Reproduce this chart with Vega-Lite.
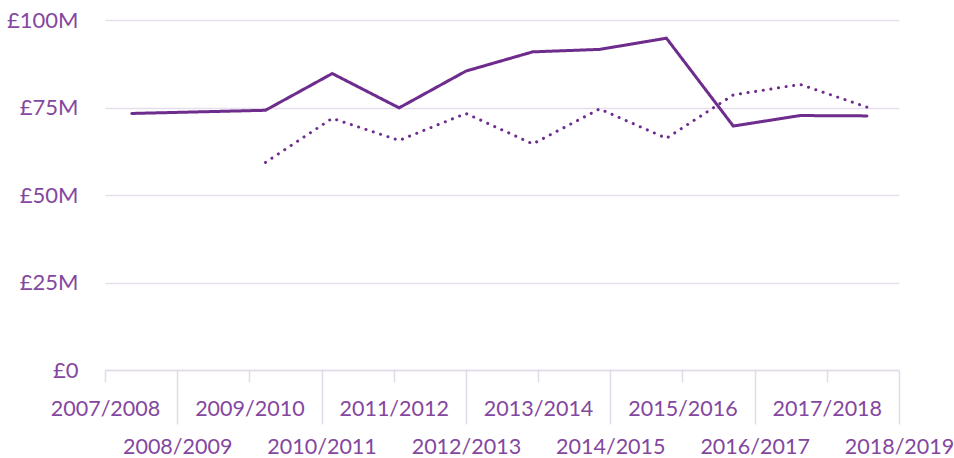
{
  "$schema": "https://vega.github.io/schema/vega-lite/v6.json",
  "width": 794,
  "height": 350,
  "autosize": {"type": "none"},
  "padding": {"left": 105, "top": 20, "right": 55, "bottom": 88},
  "background": "#ffffff",
  "config": {
    "view": {"stroke": null},
    "font": "Lato",
    "axis": {"labelFont": "Lato", "labelFontWeight": 400, "labelFontSize": 22, "labelColor": "#8447a0", "titleFontSize": 0}
  },
  "data": {
    "values": [
      {"year": "2007/2008", "series": "A", "value": 73.3},
      {"year": "2009/2010", "series": "A", "value": 74.2},
      {"year": "2010/2011", "series": "A", "value": 84.7},
      {"year": "2011/2012", "series": "A", "value": 74.9},
      {"year": "2012/2013", "series": "A", "value": 85.4},
      {"year": "2013/2014", "series": "A", "value": 90.9},
      {"year": "2014/2015", "series": "A", "value": 91.6},
      {"year": "2015/2016", "series": "A", "value": 94.8},
      {"year": "2016/2017", "series": "A", "value": 69.7},
      {"year": "2017/2018", "series": "A", "value": 72.7},
      {"year": "2018/2019", "series": "A", "value": 72.6},
      {"year": "2009/2010", "series": "B", "value": 59.3},
      {"year": "2010/2011", "series": "B", "value": 71.9},
      {"year": "2011/2012", "series": "B", "value": 65.6},
      {"year": "2012/2013", "series": "B", "value": 73.3},
      {"year": "2013/2014", "series": "B", "value": 64.6},
      {"year": "2014/2015", "series": "B", "value": 74.6},
      {"year": "2015/2016", "series": "B", "value": 66.2},
      {"year": "2016/2017", "series": "B", "value": 78.6},
      {"year": "2017/2018", "series": "B", "value": 81.6},
      {"year": "2018/2019", "series": "B", "value": 75.1}
    ]
  },
  "layer": [
    {
      "mark": {"type": "line", "opacity": 0},
      "encoding": {
        "x": {
          "field": "year", "type": "ordinal",
          "scale": {"type": "point", "padding": 0, "domain": ["2007/2008","2008/2009","2009/2010","2010/2011","2011/2012","2012/2013","2013/2014","2014/2015","2015/2016","2016/2017","2017/2018","2018/2019"]},
          "axis": {
            "title": null,
            "labelAngle": 0,
            "labelFontSize": 21.5,
            "labelOverlap": false,
            "labelBound": false,
            "labelFlush": false,
            "domainColor": "#e4dbea",
            "domainWidth": 1.5,
            "tickColor": "#e4dbea",
            "tickWidth": 1.5,
            "tickSize": {"condition": {"test": "parseInt(substring(datum.value,0,4)) % 2 == 0", "value": 54}, "value": 12},
            "labelPadding": {"condition": {"test": "parseInt(substring(datum.value,0,4)) % 2 == 0", "value": 12}, "value": 16}
          }
        },
        "y": {
          "field": "value", "type": "quantitative",
          "scale": {"domain": [0, 100], "nice": false},
          "axis": {
            "title": null,
            "values": [0, 25, 50, 75, 100],
            "labelExpr": "datum.value == 0 ? '£0' : '£' + datum.value + 'M'",
            "domain": false,
            "ticks": false,
            "grid": true,
            "gridColor": "#e6deec",
            "gridWidth": 1.5,
            "labelPadding": 27
          }
        }
      }
    },
    {
      "mark": {"type": "line", "stroke": "#6e2c8c", "strokeWidth": 3, "strokeCap": "round", "strokeJoin": "miter"},
      "encoding": {
        "x": {
          "field": "year", "type": "ordinal",
          "scale": {"type": "point", "padding": 0.44, "align": 0.455, "domain": ["2007/2008","2008/2009","2009/2010","2010/2011","2011/2012","2012/2013","2013/2014","2014/2015","2015/2016","2016/2017","2017/2018","2018/2019"]},
          "axis": null
        },
        "y": {"field": "value", "type": "quantitative"},
        "detail": {"field": "series"},
        "strokeDash": {
          "field": "series", "type": "nominal",
          "scale": {"domain": ["A", "B"], "range": [[1, 0], [0.1, 7.6]]},
          "legend": null
        }
      }
    }
  ],
  "resolve": {"scale": {"x": "independent"}}
}
